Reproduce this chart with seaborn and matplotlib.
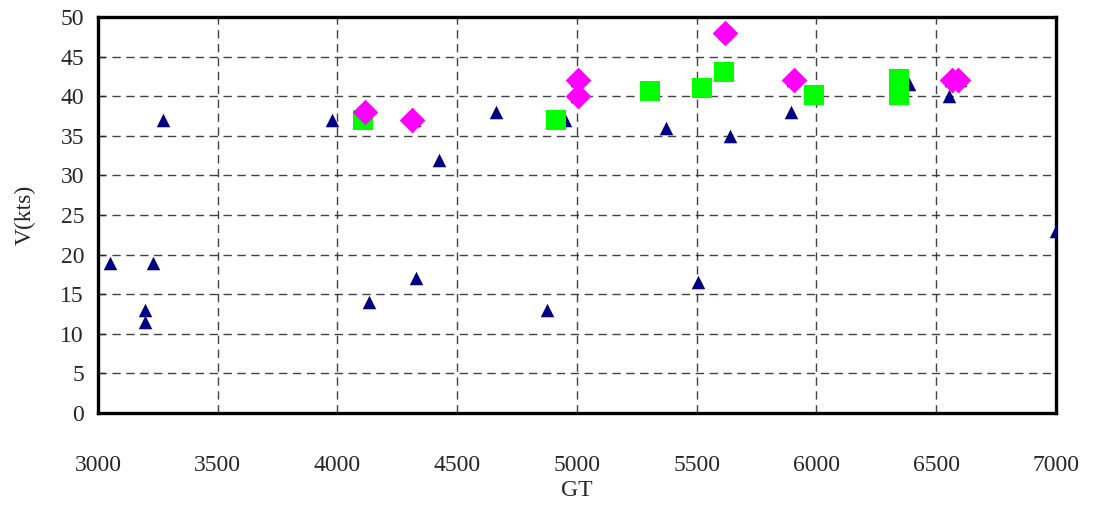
import pandas as pd
import matplotlib.pyplot as plt
import seaborn as sns

# Данные: три серии
tri_gt = [3050, 3195, 3195, 3230, 3272, 3978, 4133, 4320, 4330, 4426, 4664, 4877,
          4950, 5000, 5000, 5370, 5504, 5620, 5638, 5895, 5900, 6385, 6555, 6560, 6600, 7000]
tri_v = [19, 13, 11.5, 19, 37, 37, 14, 37, 17, 32, 38, 13,
         37, 42, 40, 36, 16.5, 48, 35, 38, 42, 41.5, 40, 42, 42, 23]

sq_gt = [4108, 4912, 5305, 5522, 5615, 5990, 6345, 6345]
sq_v = [37, 37, 40.7, 41.1, 43.1, 40.1, 42.2, 40.2]

dia_gt = [4115, 4312, 5005, 5005, 5620, 5905, 6565, 6590]
dia_v = [38, 37, 42, 40, 48, 42, 42, 42]

tri = pd.DataFrame({'GT': tri_gt, 'V': tri_v})
sq = pd.DataFrame({'GT': sq_gt, 'V': sq_v})
dia = pd.DataFrame({'GT': dia_gt, 'V': dia_v})

sns.set_style('white')
plt.rcParams['font.family'] = ['Liberation Serif', 'DejaVu Serif']

fig = plt.figure(figsize=(11, 5.07), dpi=100)
ax = fig.add_axes([0.089, 0.1854, 0.871, 0.781])

sns.scatterplot(data=tri, x='GT', y='V', marker='^', color='#000080', s=95,
                linewidth=0, ax=ax, zorder=3)
sns.scatterplot(data=sq, x='GT', y='V', marker='s', color='#00FF00', s=200,
                linewidth=0, ax=ax, zorder=4)
sns.scatterplot(data=dia, x='GT', y='V', marker='D', color='#FF00FF', s=170,
                linewidth=0, ax=ax, zorder=5)

ax.set_xlim(3000, 7000)
ax.set_ylim(0, 50)
ax.set_xticks(range(3000, 7001, 500))
ax.set_yticks(range(0, 51, 5))
ax.grid(True, color='#222222', linestyle=(0, (6, 4)), linewidth=1.0, alpha=0.85)
ax.set_axisbelow(True)

for sp in ax.spines.values():
    sp.set_visible(True)
    sp.set_color('black')
    sp.set_linewidth(2.4)

ax.tick_params(axis='x', length=0, pad=30, labelsize=17)
ax.tick_params(axis='y', length=5, width=1, direction='in', left=True, pad=10, labelsize=17)

ax.set_xlabel('GT', fontsize=17, labelpad=3)
ax.set_ylabel('V(kts)', fontsize=17, labelpad=18)

fig.savefig('out.png', dpi=100)
